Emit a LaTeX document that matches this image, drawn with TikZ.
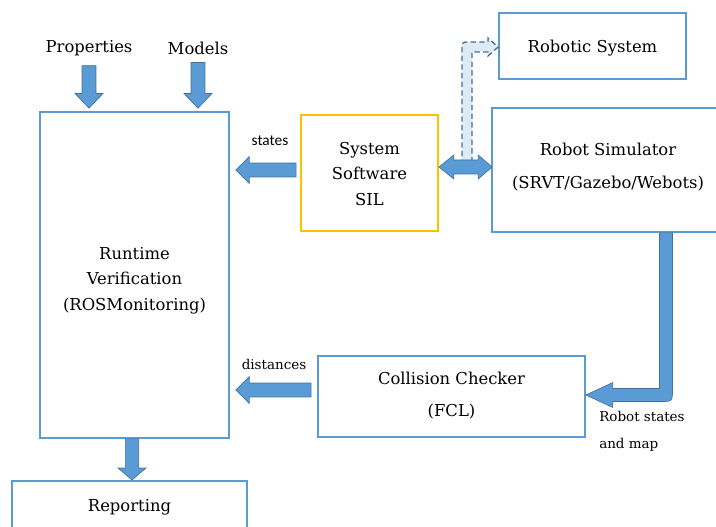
\documentclass[tikz,border=0pt]{standalone}
\usepackage{fontspec}
\setmainfont{DejaVu Serif}
\newfontfamily\bodyserif{DejaVu Serif}
\newfontfamily\labelsans{Carlito}
\usetikzlibrary{calc}

\definecolor{boxblue}{HTML}{5B9BD5}
\definecolor{arrowfill}{HTML}{5B9BD5}
\definecolor{arrowline}{HTML}{41719C}
\definecolor{boxyellow}{HTML}{FFC000}
\definecolor{lightfill}{HTML}{DEEBF7}

\tikzset{
  block/.style={draw=boxblue, line width=1.3pt, align=center, inner sep=0pt},
  swblock/.style={block, draw=boxyellow},
  plain/.style={inner sep=0pt, align=center, anchor=base,
    font=\bodyserif\fontsize{12.3}{18.8}\selectfont},
  smalllabel/.style={inner sep=0pt, align=left, anchor=base,
    font=\bodyserif\fontsize{10.1}{18}\selectfont},
  barrow/.style={fill=arrowfill, draw=arrowline, line width=0.5pt, line join=miter},
  dasharrow/.style={fill=lightfill, draw=arrowline, line width=1pt, dashed,
    dash pattern=on 4pt off 2.5pt},
}

% straight block arrow from #1 to #2; #3 half shaft, #4 half head, #5 head length
\newcommand\blockarrow[5]{%
  \coordinate (ba-s) at (#1);
  \coordinate (ba-e) at (#2);
  \coordinate (ba-h) at ($(ba-e)!#5!(ba-s)$);
  \path[barrow] ($(ba-s)!#3!90:(ba-e)$) -- ($(ba-h)!#3!90:(ba-e)$)
    -- ($(ba-h)!#4!90:(ba-e)$) -- (ba-e) -- ($(ba-h)!#4!-90:(ba-e)$)
    -- ($(ba-h)!#3!-90:(ba-e)$) -- ($(ba-s)!#3!-90:(ba-e)$) -- cycle;
}

\begin{document}
\begin{tikzpicture}[x=0.75pt, y=-0.75pt]
  \useasboundingbox (0,0) rectangle (716,527);
  \clip (0,0) rectangle (716,527);

  % blocks
  \node[block, minimum width=141.75pt, minimum height=244.5pt] (rv) at (134.5,275) {};
  \node[swblock, minimum width=102.75pt, minimum height=87pt] (sys) at (369.5,173) {};
  \node[block, minimum width=174pt, minimum height=93pt] (sim) at (608,170) {};
  \node[block, minimum width=140.25pt, minimum height=49.5pt] (robot) at (592.5,46) {};
  \node[block, minimum width=200.25pt, minimum height=60.75pt] (cc) at (451.5,396.5) {};
  \node[block, minimum width=176.25pt, minimum height=45pt, anchor=north] (rep) at (129.5,480) {};

  % block texts (anchored at the baseline of their last line)
  \node[plain] (rvtext) at (134.5,310) {Runtime\\Verification\\(ROSMonitoring)};
  \node[plain] (systext) at (369.5,205) {System\\Software\\SIL};
  \node[plain] (simtext) at (608,189) {Robot Simulator\\[6pt](SRVT/Gazebo/Webots)};
  \node[plain] (robottext) at (592.5,53) {Robotic System};
  \node[plain] (cctext) at (451.5,416) {Collision Checker\\[4.5pt](FCL)};
  \node[plain] (reptext) at (129.5,511) {Reporting};

  % inputs
  \node[plain] (props) at (89,53) {Properties};
  \node[plain] (models) at (198,55) {Models};

  % labels
  \node[inner sep=0pt, anchor=base, font=\labelsans\fontsize{11.5}{14}\selectfont] (lstates) at (270,146) {states};
  \node[smalllabel] (ldist) at (274,369) {distances};
  \node[smalllabel, anchor=base west] (lmap) at (599,448) {Robot states\\[2pt]and map};

  % arrows into the monitor
  \blockarrow{$(props.south)+(0,9)$}{$(rv.north -| props.south)+(0,-3)$}{5.2pt}{10.5pt}{11pt}
  \blockarrow{$(models.south)+(0,7)$}{$(rv.north -| models.south)+(0,-3)$}{5.2pt}{10.5pt}{11pt}
  \blockarrow{$(sys.west)+(-4,-3)$}{$(rv.east |- sys.west)+(6,-3)$}{5.2pt}{10pt}{10pt}
  \blockarrow{$(cc.west)+(-6,-6.5)$}{$(rv.east |- cc.west)+(6,-6.5)$}{5.2pt}{10pt}{10pt}
  \blockarrow{$(rv.south)+(-2.5,0)$}{$(rep.north -| rv.south)+(-2.5,0)$}{5pt}{10.5pt}{9pt}

  % link to the real robot (dashed)
  \path[dasharrow] (462,165) -- (462,50) .. controls (462,42) .. (470,42)
    -- (488,42) -- (488,38) -- (robot.west |- 0,47) -- (488,56) -- (488,52)
    -- (472,52) -- (472,165) -- cycle;

  % software <-> simulator
  \coordinate (dl) at ($(sys.east)+(0,-6)$);
  \coordinate (dr) at ($(sim.west |- dl)+(1,0)$);
  \coordinate (dl2) at ($(dl)+(15,0)$);
  \coordinate (dr2) at ($(dr)+(-14,0)$);
  \path[barrow] (dl) -- ($(dl2)+(0,-12)$) -- ($(dl2)+(0,-7)$) -- ($(dr2)+(0,-7)$)
    -- ($(dr2)+(0,-12)$) -- (dr) -- ($(dr2)+(0,12)$) -- ($(dr2)+(0,7)$)
    -- ($(dl2)+(0,7)$) -- ($(dl2)+(0,12)$) -- cycle;

  % simulator -> collision checker
  \coordinate (st) at (sim.south -| 666,0);
  \coordinate (ct) at ($(cc.east)+(0,-1.5)$);
  \path[barrow] ($(st)+(-6.5,0)$) -- ($(st)+(6.5,0)$) -- ($(st |- ct)+(6.5,-6)$)
    .. controls ($(st |- ct)+(6.5,6.5)$) .. ($(st |- ct)+(-6,6.5)$)
    -- ($(ct)+(27,6.5)$) -- ($(ct)+(27,12.5)$) -- (ct) -- ($(ct)+(27,-12.5)$)
    -- ($(ct)+(27,-6.5)$) -- ($(st |- ct)+(-6.5,-6.5)$) -- cycle;
\end{tikzpicture}
\end{document}
